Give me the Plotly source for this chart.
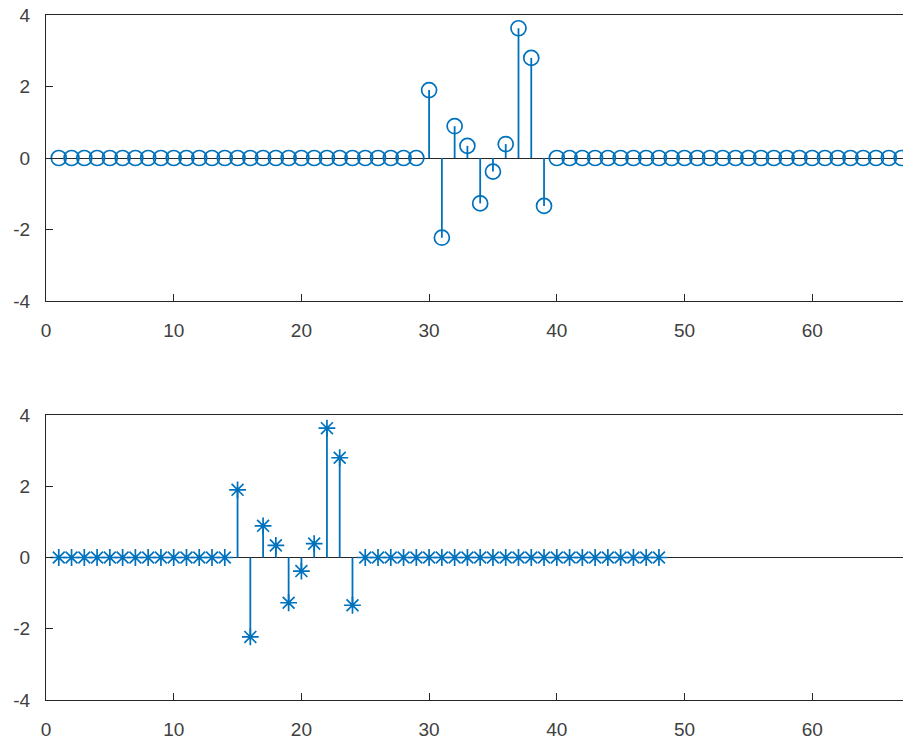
import plotly.graph_objects as go

# ---- data ----
pulse_values = [1.9, -2.23, 0.89, 0.34, -1.27, -0.38, 0.39, 3.63, 2.8, -1.34]

top_n = list(range(1, 71))
top_start = 30
top_vals = [0.0] * len(top_n)
for i, v in enumerate(pulse_values):
    top_vals[top_start - 1 + i] = v

bot_n = list(range(1, 49))
bot_start = 15
bot_vals = [0.0] * len(bot_n)
for i, v in enumerate(pulse_values):
    bot_vals[bot_start - 1 + i] = v

x_ticks = [0, 10, 20, 30, 40, 50, 60]
y_ticks = [-4, -2, 0, 2, 4]
y_ticktext = ["-4", "-2", "0", "2", "4"]

BLUE = "#0072BD"
AX = "#262626"

def stems(xs, ys):
    sx, sy = [], []
    for x, y in zip(xs, ys):
        if y != 0:
            sx += [x, x, None]
            sy += [0, y, None]
    return sx, sy

fig = go.Figure()

tx, ty = stems(top_n, top_vals)
fig.add_trace(go.Scatter(x=tx, y=ty, mode="lines", line=dict(color=BLUE, width=1.8),
                         xaxis="x", yaxis="y", hoverinfo="skip", showlegend=False))
fig.add_trace(go.Scatter(x=top_n, y=top_vals, mode="markers",
                         marker=dict(symbol="circle-open", size=15, color=BLUE, line=dict(width=1.7)),
                         xaxis="x", yaxis="y", showlegend=False))

bx, by = stems(bot_n, bot_vals)
fig.add_trace(go.Scatter(x=bx, y=by, mode="lines", line=dict(color=BLUE, width=1.8),
                         xaxis="x2", yaxis="y2", hoverinfo="skip", showlegend=False))
fig.add_trace(go.Scatter(x=bot_n, y=bot_vals, mode="markers",
                         marker=dict(symbol="asterisk-open", size=14, color=BLUE, line=dict(width=1.7, color=BLUE)),
                         xaxis="x2", yaxis="y2", showlegend=False))

W, H = 903, 743
L = 46
xr = [0, (W - L) / 12.77]

axis_common = dict(showgrid=False, showline=True, linecolor=AX, linewidth=1, mirror=True,
                   ticks="inside", ticklen=7, tickcolor=AX, tickwidth=1, automargin=False,
                   ticklabeloverflow="allow",
                   tickfont=dict(family="Liberation Sans, Arial", size=19, color="#404040"))

fig.update_layout(
    width=W, height=H,
    margin=dict(l=0, r=0, t=0, b=0),
    paper_bgcolor="white", plot_bgcolor="white",
    xaxis=dict(domain=[L / W, 1.0], range=xr, tickvals=x_ticks, anchor="y",
               zeroline=False, ticklabelstandoff=12, **axis_common),
    yaxis=dict(domain=[1 - 301 / H, 1 - 15 / H], range=[-4, 4], tickvals=y_ticks, ticktext=y_ticktext,
               anchor="x", zeroline=True, zerolinecolor=AX, zerolinewidth=1.2,
               ticklabelstandoff=11, **axis_common),
    xaxis2=dict(domain=[L / W, 1.0], range=xr, tickvals=x_ticks, anchor="y2",
                zeroline=False, ticklabelstandoff=12, **axis_common),
    yaxis2=dict(domain=[1 - 700 / H, 1 - 415 / H], range=[-4, 4], tickvals=y_ticks, ticktext=y_ticktext,
                anchor="x2", zeroline=True, zerolinecolor=AX, zerolinewidth=1.2,
                ticklabelstandoff=11, **axis_common),
)

fig.write_html("out.html", config={"displayModeBar": False},
               post_script="document.body.style.margin='0';document.body.style.overflow='hidden';")
